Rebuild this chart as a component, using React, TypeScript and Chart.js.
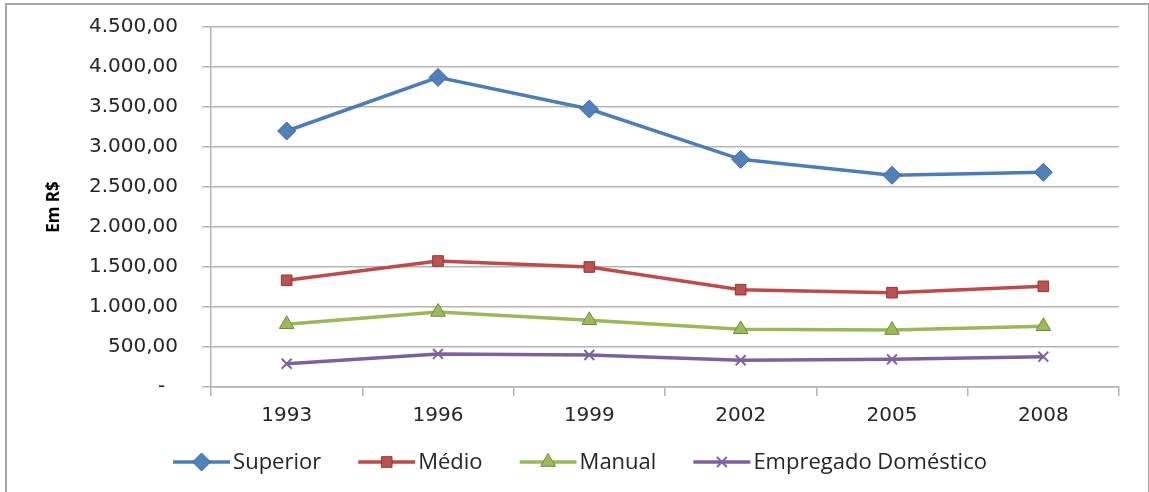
import React, { useEffect, useRef } from "react";
import { Chart, registerables } from "chart.js";
import { drawPoint } from "chart.js/helpers";

Chart.register(...registerables);

const years = ["1993", "1996", "1999", "2002", "2005", "2008"];
const superior = [3200, 3870, 3475, 2846, 2646, 2684];
const medio = [1334, 1575, 1500, 1217, 1179, 1258];
const manual = [784, 938, 834, 721, 712, 759];
const empregado = [291, 413, 400, 334, 346, 379];
const seriesNames = ["Superior", "Médio", "Manual", "Empregado Doméstico"];
const yTitle = "Em R$";

function fmt(v: number): string {
  if (v === 0) return "-  ";
  const int = Math.round(v).toString().replace(/\B(?=(\d{3})+(?!\d))/g, ".");
  return int + ",00";
}

const legendPlugin = {
  id: "excelLegend",
  afterDraw(chart: any) {
    const ctx = chart.ctx;
    const ds = chart.data.datasets;
    ctx.save();
    ctx.font = "22px 'Open Sans'";
    ctx.textBaseline = "middle";
    ctx.textAlign = "left";
    const lineLen = 57;
    const gap = 3;
    const itemGap = 37;
    const widths = ds.map((d: any) => ctx.measureText(d.label).width);
    const total =
      widths.reduce((a: number, b: number) => a + b, 0) +
      ds.length * (lineLen + gap) +
      (ds.length - 1) * itemGap;
    let x = 580 - total / 2;
    const y = 462;
    ds.forEach((d: any, i: number) => {
      ctx.strokeStyle = d.borderColor;
      ctx.lineWidth = 3.5;
      ctx.beginPath();
      ctx.moveTo(x, y);
      ctx.lineTo(x + lineLen, y);
      ctx.stroke();
      ctx.fillStyle = d.pointBackgroundColor;
      ctx.strokeStyle = d.pointBorderColor;
      ctx.lineWidth = d.pointBorderWidth;
      drawPoint(ctx, { pointStyle: d.pointStyle, radius: d.pointRadius, borderWidth: d.pointBorderWidth, rotation: 0 }, x + lineLen / 2, y);
      ctx.fillStyle = "#262626";
      ctx.fillText(d.label, x + lineLen + gap, y + 1);
      x += lineLen + gap + widths[i] + itemGap;
    });
    ctx.restore();
  },
};

export default function App() {
  const ref = useRef<HTMLCanvasElement | null>(null);
  useEffect(() => {
    if (!ref.current) return;
    const gridColor = "#b4b4b4";
    const chart = new Chart(ref.current, {
      type: "line",
      data: {
        labels: years,
        datasets: [
          {
            label: seriesNames[0],
            data: superior,
            borderColor: "#4A7EBB",
            borderWidth: 3.5,
            pointStyle: "rectRot",
            pointRadius: 9,
            pointBackgroundColor: "#4F81BD",
            pointBorderColor: "#3A6699",
            pointBorderWidth: 1,
            tension: 0,
          },
          {
            label: seriesNames[1],
            data: medio,
            borderColor: "#BE4B48",
            borderWidth: 3.5,
            pointStyle: "rect",
            pointRadius: 7.5,
            pointBackgroundColor: "#C0504D",
            pointBorderColor: "#8C3836",
            pointBorderWidth: 1,
            tension: 0,
          },
          {
            label: seriesNames[2],
            data: manual,
            borderColor: "#98B954",
            borderWidth: 3.5,
            pointStyle: "triangle",
            pointRadius: 8.5,
            pointBackgroundColor: "#9BBB59",
            pointBorderColor: "#71893F",
            pointBorderWidth: 1,
            tension: 0,
          },
          {
            label: seriesNames[3],
            data: empregado,
            borderColor: "#7D60A0",
            borderWidth: 3.5,
            pointStyle: "crossRot",
            pointRadius: 7,
            pointBackgroundColor: "#8064A2",
            pointBorderColor: "#8064A2",
            pointBorderWidth: 2,
            tension: 0,
          },
        ],
      },
      options: {
        responsive: false,
        animation: false,
        layout: { padding: { left: 0, top: 27, right: 30, bottom: 45 } },
        plugins: {
          legend: { display: false },
          tooltip: { enabled: false },
        },
        scales: {
          x: {
            offset: true,
            grid: {
              offset: true,
              drawOnChartArea: false,
              drawTicks: true,
              tickLength: 9,
              color: gridColor,
              lineWidth: 1.5,
            },
            border: { color: gridColor, width: 1.5 },
            ticks: {
              color: "#262626",
              font: { family: "'DejaVu Sans'", size: 20 },
              padding: 8,
            },
            afterFit(s: any) {
              s.height = 60;
            },
          },
          y: {
            min: 0,
            max: 4500,
            ticks: {
              stepSize: 500,
              color: "#262626",
              font: { family: "'DejaVu Sans'", size: 20 },
              padding: 24,
              callback: (v: any) => fmt(Number(v)),
            },
            grid: { color: gridColor, tickLength: 9, lineWidth: 1.5 },
            border: { color: gridColor, width: 1.5 },
            title: {
              display: true,
              text: yTitle,
              color: "#000",
              font: { family: "'Open Sans'", size: 17, weight: "bold" },
              padding: { top: 44, bottom: 0 },
            },
            afterFit(s: any) {
              s.width = 211;
              s.paddingTop = 10;
              s.paddingBottom = 10;
            },
          },
        },
      },
      plugins: [legendPlugin],
    });
    return () => chart.destroy();
  }, []);
  return (
    <div style={{ position: "absolute", left: 0, top: 0, width: 1149, height: 492, overflow: "hidden", background: "#fff" }}>
      <div style={{ position: "absolute", left: 5, top: 3, width: 1141, height: 520, border: "2px solid #a6a6a6" }} />
      <canvas ref={ref} width={1149} height={492} style={{ position: "absolute", left: 0, top: 0 }} />
    </div>
  );
}
